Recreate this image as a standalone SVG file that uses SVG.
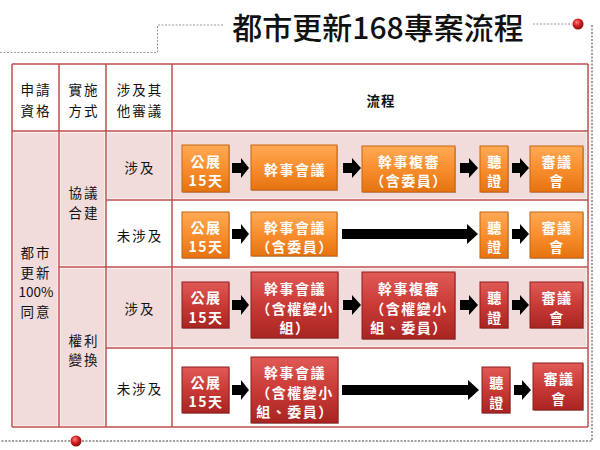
<svg xmlns="http://www.w3.org/2000/svg" width="600" height="450" viewBox="0 0 600 450">
<defs>
<linearGradient id="gOr" x1="0" y1="0" x2="0" y2="1"><stop offset="0" stop-color="#FFAA55"/><stop offset="0.5" stop-color="#F98E2E"/><stop offset="1" stop-color="#E5730F"/></linearGradient>
<linearGradient id="gRd" x1="0" y1="0" x2="0" y2="1"><stop offset="0" stop-color="#E05A56"/><stop offset="0.5" stop-color="#C93A36"/><stop offset="1" stop-color="#A82522"/></linearGradient>
<radialGradient id="gDot" cx="0.4" cy="0.35" r="0.65"><stop offset="0" stop-color="#FF8080"/><stop offset="0.5" stop-color="#D42020"/><stop offset="1" stop-color="#8A0E0E"/></radialGradient>
<style>
.deco{fill:none;stroke:#9A9A9A;stroke-width:1;stroke-dasharray:2 1.5}
.decoT{fill:none;stroke:#A0A0A0;stroke-width:2;stroke-dasharray:2 1.5}
.grid{stroke:#C0504D;stroke-width:1.5;fill:none}
.pink{fill:#F2DCDB}
.tt{font-family:"Noto Sans CJK TC","Noto Sans CJK SC",sans-serif;font-size:13.5px;fill:#111;text-anchor:middle;dominant-baseline:central;letter-spacing:2px}
.bx text{font-family:"Noto Sans CJK TC","Noto Sans CJK SC",sans-serif;font-size:14px;fill:#fff;text-anchor:middle;dominant-baseline:central;letter-spacing:1.5px;font-weight:bold}
.or{fill:url(#gOr);stroke:#C8620E;stroke-width:1}
.rd{fill:url(#gRd);stroke:#8E1C1A;stroke-width:1}
.sh{fill:#000;opacity:0.25}
.arr{fill:#000}
</style>
</defs>
<rect width="600" height="450" fill="#fff"/>
<g id="decor">
<path class="deco" d="M0 52.5H157.5V25H224"/>
<path class="deco" d="M533 24H572"/>
<path class="decoT" d="M592 25V441H0"/>
<circle cx="578" cy="24" r="5.5" fill="url(#gDot)"/>
<circle cx="76" cy="441" r="5.5" fill="url(#gDot)"/>
</g>
<text x="378" y="39" style="font-family:'Noto Sans CJK TC','Noto Sans CJK SC',sans-serif;font-size:30px;font-weight:500;fill:#111;text-anchor:middle">都市更新168專案流程</text>
<g id="table">
<rect x="13.5" y="132.5" width="44" height="293" class="pink"/>
<rect x="60.5" y="132.5" width="44" height="133" class="pink"/>
<rect x="60.5" y="268.5" width="44" height="157" class="pink"/>
<rect x="107.5" y="132.5" width="63" height="66" class="pink"/>
<rect x="173.5" y="132.5" width="413" height="66" class="pink"/>
<rect x="107.5" y="268.5" width="63" height="78" class="pink"/>
<rect x="173.5" y="268.5" width="413" height="78" class="pink"/>
<path class="grid" d="M12 64H588M12 131H588M106 200H588M59 267H588M106 348H588M12 427H588M12 64V427M59 64V427M106 64V427M172 64V427M588 64V427"/>
<text class="tt" x="36" y="89">申請</text><text class="tt" x="36" y="110">資格</text>
<text class="tt" x="84" y="89">實施</text><text class="tt" x="84" y="110">方式</text>
<text class="tt" x="140" y="89">涉及其</text><text class="tt" x="140" y="110">他審議</text>
<text class="tt" x="381" y="100" style="font-weight:bold;letter-spacing:1px">流程</text>
<text class="tt" x="36" y="252">都市</text><text class="tt" x="36" y="271.5">更新</text><text class="tt" x="36" y="291" style="letter-spacing:0">100%</text><text class="tt" x="36" y="310.5">同意</text>
<text class="tt" x="84" y="192">協議</text><text class="tt" x="84" y="211.5">合建</text>
<text class="tt" x="84" y="339.5">權利</text><text class="tt" x="84" y="359">變換</text>
<text class="tt" x="140" y="167">涉及</text>
<text class="tt" x="140" y="235">未涉及</text>
<text class="tt" x="140" y="308">涉及</text>
<text class="tt" x="140" y="388">未涉及</text>
</g>
<g id="connectors">
<path class="arr" d="M232 163H241V158L249 168L241 178V173H232Z"/>
<path class="arr" d="M343 163H352V158L361 168L352 178V173H343Z"/>
<path class="arr" d="M460 163H469V158L478 168L469 178V173H460Z"/>
<path class="arr" d="M512 163H520V158L529 168L520 178V173H512Z"/>
<path class="arr" d="M232 229H241V224L249 234L241 244V239H232Z"/>
<path class="arr" d="M342 229H467V224L478 234L467 244V239H342Z"/>
<path class="arr" d="M512 229H520V224L529 234L520 244V239H512Z"/>
<path class="arr" d="M232 300H241V295L249 305L241 315V310H232Z"/>
<path class="arr" d="M343 300H352V295L361 305L352 315V310H343Z"/>
<path class="arr" d="M460 300H469V295L478 305L469 315V310H460Z"/>
<path class="arr" d="M512 300H520V295L529 305L520 315V310H512Z"/>
<path class="arr" d="M232 385H241V380L249 390L241 400V395H232Z"/>
<path class="arr" d="M342 385H468V380L479 390L468 400V395H342Z"/>
<path class="arr" d="M514 385H522V380L531 390L522 400V395H514Z"/>
</g>
<g id="r1n1" class="bx"><rect x="183" y="146" width="47" height="47" class="sh"/><rect x="182" y="145" width="47" height="47" class="or"/><text x="206" y="161">公展</text><text x="206" y="180">15天</text></g>
<g id="r1n2" class="bx"><rect x="252" y="146" width="86" height="45" class="sh"/><rect x="251" y="145" width="86" height="45" class="or"/><text x="295" y="169">幹事會議</text></g>
<g id="r1n3" class="bx"><rect x="363" y="147" width="93" height="46" class="sh"/><rect x="362" y="146" width="93" height="46" class="or"/><text x="409" y="161">幹事複審</text><text x="409" y="180">（含委員）</text></g>
<g id="r1n4" class="bx"><rect x="481" y="147" width="28" height="46" class="sh"/><rect x="480" y="146" width="28" height="46" class="or"/><text x="495" y="161">聽</text><text x="495" y="180">證</text></g>
<g id="r1n5" class="bx"><rect x="531" y="147" width="53" height="46" class="sh"/><rect x="530" y="146" width="53" height="46" class="or"/><text x="557" y="161">審議</text><text x="557" y="180">會</text></g>
<g id="r2n1" class="bx"><rect x="183" y="213" width="47" height="46" class="sh"/><rect x="182" y="212" width="47" height="46" class="or"/><text x="206" y="227">公展</text><text x="206" y="246">15天</text></g>
<g id="r2n2" class="bx"><rect x="252" y="213" width="86" height="44" class="sh"/><rect x="251" y="212" width="86" height="44" class="or"/><text x="295" y="227">幹事會議</text><text x="295" y="246">（含委員）</text></g>
<g id="r2n3" class="bx"><rect x="481" y="213" width="28" height="46" class="sh"/><rect x="480" y="212" width="28" height="46" class="or"/><text x="495" y="227">聽</text><text x="495" y="246">證</text></g>
<g id="r2n4" class="bx"><rect x="531" y="213" width="53" height="46" class="sh"/><rect x="530" y="212" width="53" height="46" class="or"/><text x="557" y="227">審議</text><text x="557" y="246">會</text></g>
<g id="r3n1" class="bx"><rect x="183" y="283" width="47" height="46" class="sh"/><rect x="182" y="282" width="47" height="46" class="rd"/><text x="206" y="297">公展</text><text x="206" y="317">15天</text></g>
<g id="r3n2" class="bx"><rect x="252" y="273" width="87" height="66" class="sh"/><rect x="251" y="272" width="87" height="66" class="rd"/><text x="295" y="288">幹事會議</text><text x="295" y="308">（含權變小</text><text x="295" y="327">組）</text></g>
<g id="r3n3" class="bx"><rect x="363" y="273" width="93" height="67" class="sh"/><rect x="362" y="272" width="93" height="67" class="rd"/><text x="409" y="288">幹事複審</text><text x="409" y="308">（含權變小</text><text x="409" y="327">組、委員）</text></g>
<g id="r3n4" class="bx"><rect x="481" y="283" width="28" height="46" class="sh"/><rect x="480" y="282" width="28" height="46" class="rd"/><text x="495" y="297">聽</text><text x="495" y="317">證</text></g>
<g id="r3n5" class="bx"><rect x="531" y="283" width="53" height="46" class="sh"/><rect x="530" y="282" width="53" height="46" class="rd"/><text x="557" y="297">審議</text><text x="557" y="317">會</text></g>
<g id="r4n1" class="bx"><rect x="183" y="368" width="47" height="46" class="sh"/><rect x="182" y="367" width="47" height="46" class="rd"/><text x="206" y="382">公展</text><text x="206" y="401">15天</text></g>
<g id="r4n2" class="bx"><rect x="252" y="358" width="87" height="66" class="sh"/><rect x="251" y="357" width="87" height="66" class="rd"/><text x="295" y="372">幹事會議</text><text x="295" y="392">（含權變小</text><text x="295" y="411">組、委員）</text></g>
<g id="r4n3" class="bx"><rect x="483" y="368" width="28" height="46" class="sh"/><rect x="482" y="367" width="28" height="46" class="rd"/><text x="497" y="382">聽</text><text x="497" y="402">證</text></g>
<g id="r4n4" class="bx"><rect x="534" y="364" width="50" height="47" class="sh"/><rect x="533" y="363" width="50" height="47" class="rd"/><text x="559" y="378">審議</text><text x="559" y="398">會</text></g>
</svg>
